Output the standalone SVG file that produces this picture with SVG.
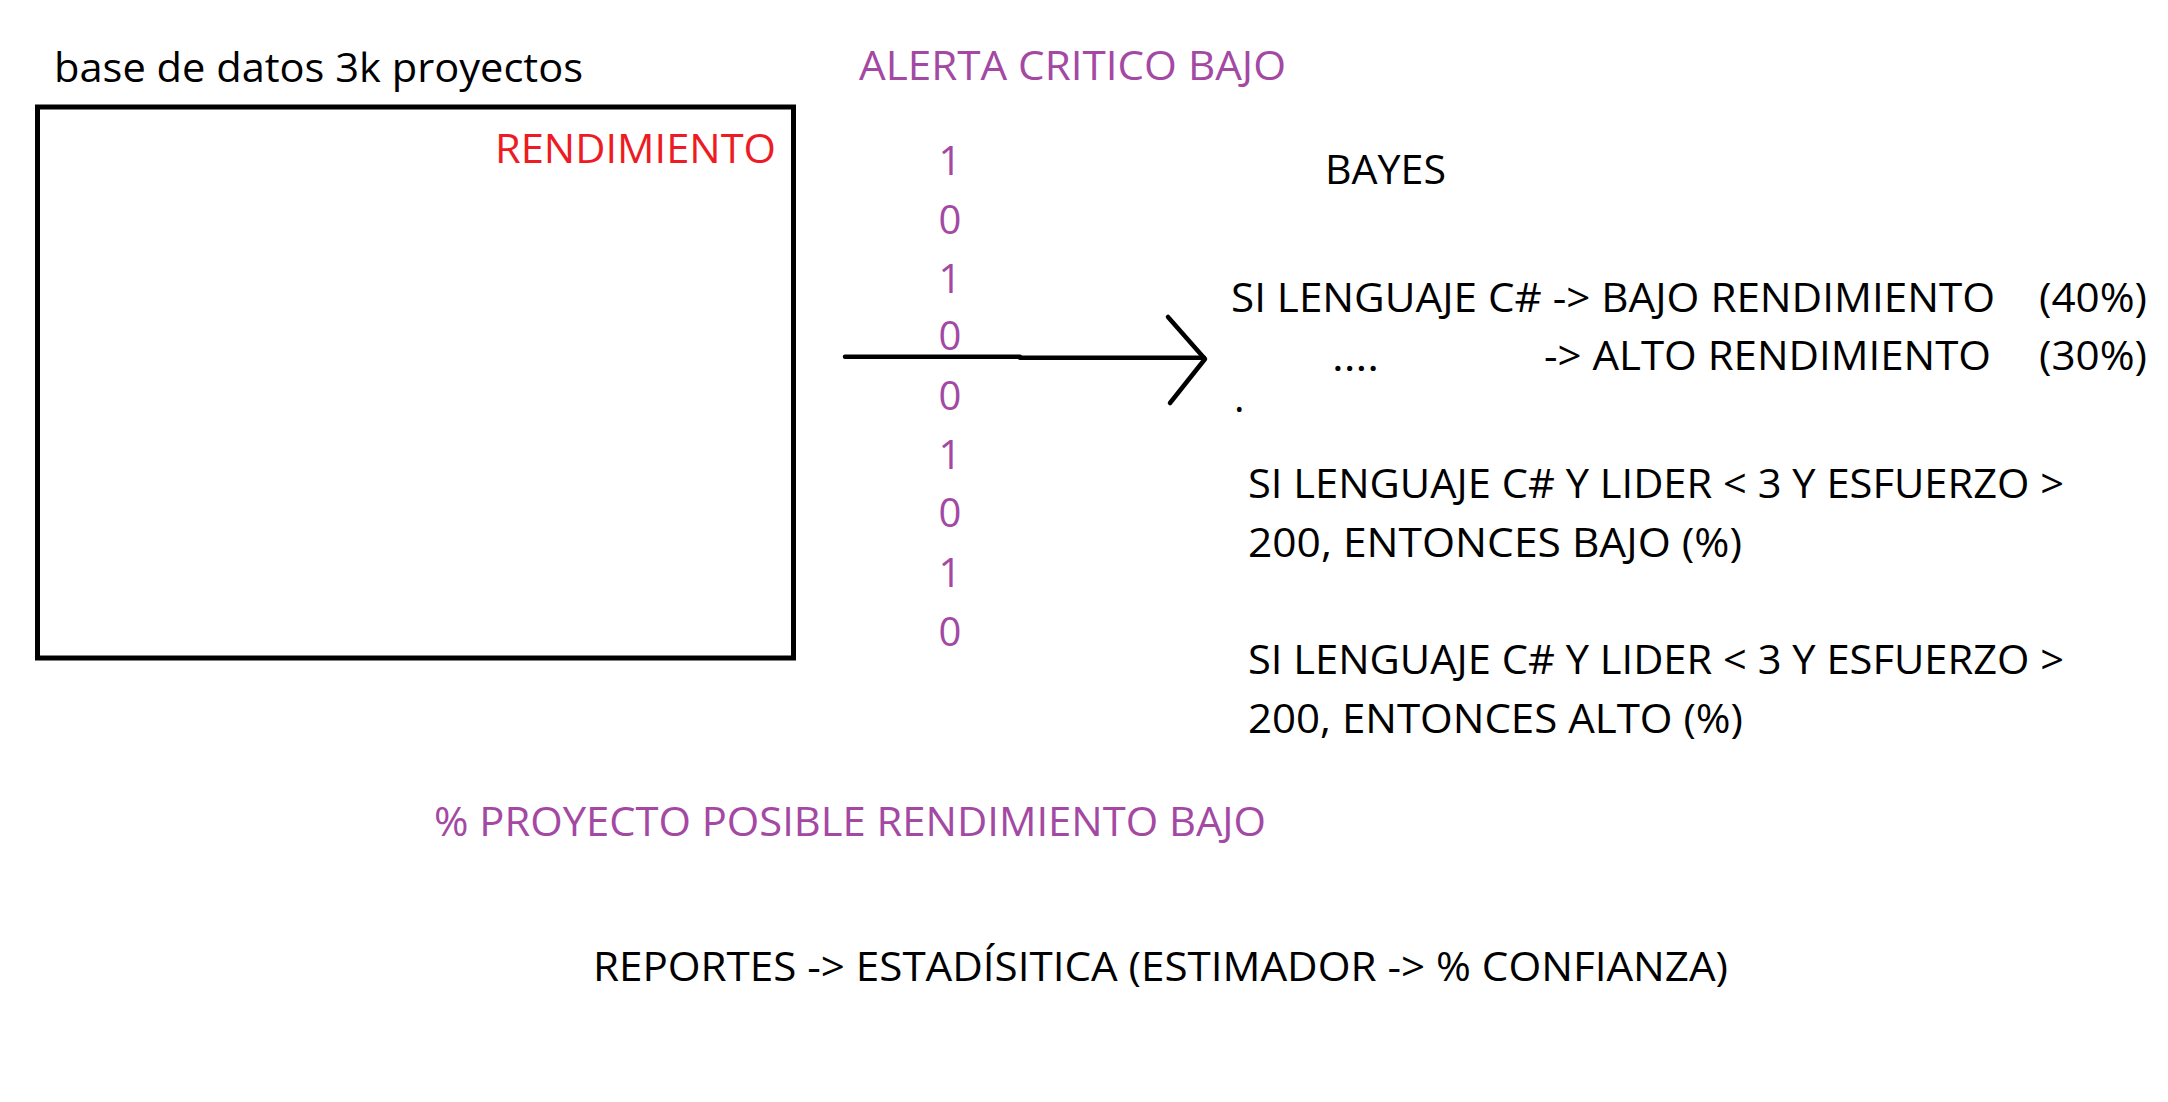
<svg xmlns="http://www.w3.org/2000/svg" width="2168" height="1102" viewBox="0 0 2168 1102">
<style>
text{font-family:"Open Sans","Noto Sans","Liberation Sans",sans-serif;font-size:40px;fill:#000}
.p{fill:#A349A4}
.r{fill:#ED1C24}
.d{fill:#A349A4;text-anchor:middle}
.ln{stroke:#000;stroke-width:4.5;fill:none;stroke-linecap:round;stroke-linejoin:round}
</style>
<rect width="2168" height="1102" fill="#fff"/>
<g id="db">
<text x="54" y="82" textLength="529" lengthAdjust="spacingAndGlyphs">base de datos 3k proyectos</text>
<rect x="37.5" y="107" width="756" height="551" fill="none" stroke="#000" stroke-width="5"/>
<text class="r" x="495" y="163" textLength="281" lengthAdjust="spacingAndGlyphs">RENDIMIENTO</text>
</g>
<g id="alerta">
<text class="p" x="859" y="80" textLength="427" lengthAdjust="spacingAndGlyphs">ALERTA CRITICO BAJO</text>
<text class="d" x="950" y="175">1</text>
<text class="d" x="950" y="234">0</text>
<text class="d" x="950" y="293">1</text>
<text class="d" x="950" y="350">0</text>
<text class="d" x="950" y="410">0</text>
<text class="d" x="950" y="469">1</text>
<text class="d" x="950" y="527">0</text>
<text class="d" x="950" y="587">1</text>
<text class="d" x="950" y="646">0</text>
</g>
<g id="connectors">
<path class="ln" d="M845 356.7 L1020 356.7 M1020 357.7 L1204 357.7"/>
<path class="ln" d="M1168 317 L1205 359 L1170 403"/>
</g>
<g id="bayes">
<text x="1325" y="184" textLength="121" lengthAdjust="spacingAndGlyphs">BAYES</text>
<text x="1231" y="312" textLength="764" lengthAdjust="spacingAndGlyphs">SI LENGUAJE C# -&gt; BAJO RENDIMIENTO</text>
<text x="2039" y="312" textLength="108" lengthAdjust="spacingAndGlyphs">(40%)</text>
<text x="1332" y="371" textLength="47" lengthAdjust="spacingAndGlyphs">....</text>
<text x="1544" y="370" textLength="447" lengthAdjust="spacingAndGlyphs">-&gt; ALTO RENDIMIENTO</text>
<text x="2039" y="370" textLength="108" lengthAdjust="spacingAndGlyphs">(30%)</text>
<text x="1234" y="412">.</text>
<text x="1248" y="498" textLength="816" lengthAdjust="spacingAndGlyphs">SI LENGUAJE C# Y LIDER &lt; 3 Y ESFUERZO &gt;</text>
<text x="1248" y="557" textLength="494" lengthAdjust="spacingAndGlyphs">200, ENTONCES BAJO (%)</text>
<text x="1248" y="674" textLength="816" lengthAdjust="spacingAndGlyphs">SI LENGUAJE C# Y LIDER &lt; 3 Y ESFUERZO &gt;</text>
<text x="1248" y="733" textLength="495" lengthAdjust="spacingAndGlyphs">200, ENTONCES ALTO (%)</text>
</g>
<g id="proyecto">
<text class="p" x="434" y="836" textLength="832" lengthAdjust="spacingAndGlyphs">% PROYECTO POSIBLE RENDIMIENTO BAJO</text>
</g>
<g id="reportes">
<text x="593" y="981" textLength="1135" lengthAdjust="spacingAndGlyphs">REPORTES -&gt; ESTADÍSITICA (ESTIMADOR -&gt; % CONFIANZA)</text>
</g>
</svg>
